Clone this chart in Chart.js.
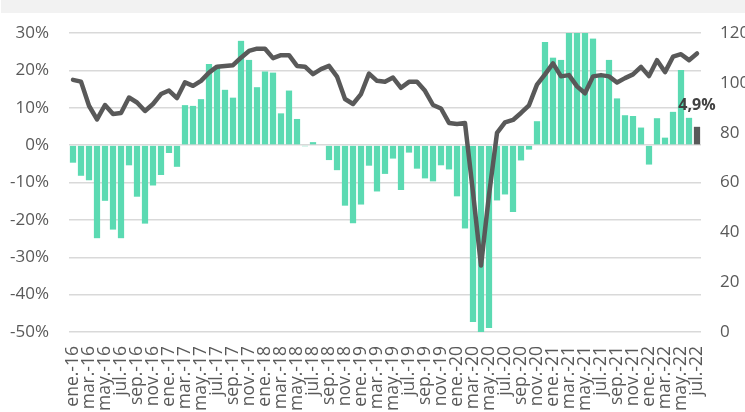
<!DOCTYPE html>
<html>
<head>
<meta charset="utf-8">
<script src="https://cdn.jsdelivr.net/npm/chart.js@4.4.1/dist/chart.umd.min.js"></script>
<style>
  html, body { margin: 0; padding: 0; background: #ffffff; overflow: hidden; width: 745px; height: 412px; }
  #band { position: absolute; left: 1px; top: 0; width: 744px; height: 13px; background: #f2f2f2; z-index: 2; }
  #wrap { position: absolute; left: 0; top: 0; width: 790px; height: 440px; }
</style>
</head>
<body>
<div id="band"></div>
<div id="wrap"><canvas id="c" width="790" height="440"></canvas></div>
<script>
// ---- data ----
const monthNames = ['ene.', 'feb.', 'mar.', 'abr.', 'may.', 'jun.', 'jul.', 'ago.', 'sep.', 'oct.', 'nov.', 'dic.'];
const years = ['16', '17', '18', '19', '20', '21', '22'];
const lastMonthCount = 7; // 2022 runs ene.–jul.

// year-on-year variation, % (left axis, bars)
const variationPct = [
  -4.7, -8.2, -9.4, -24.9, -14.9, -22.6, -24.9, -5.4, -13.8, -21.0, -10.8, -8.0,
  -2.1, -5.8, 10.7, 10.5, 12.3, 21.7, 21.0, 14.8, 12.7, 27.9, 22.8, 15.5,
  19.7, 19.4, 8.5, 14.6, 7.0, -0.3, 0.8, -0.2, -4.0, -6.7, -16.2, -20.9,
  -15.9, -5.5, -12.4, -7.7, -3.6, -12.0, -2.0, -6.3, -8.9, -9.7, -5.4, -6.5,
  -13.7, -22.3, -47.3, -50.6, -48.9, -14.8, -13.2, -17.9, -4.1, -1.2, 6.4, 27.6,
  23.4, 22.8, 33.0, 38.0, 34.0, 28.5, 18.5, 22.8, 12.5, 8.0, 7.8, 4.7,
  -5.2, 7.2, 2.0, 8.9, 20.1, 7.3, 4.9
];

// index level (right axis, line)
const indexLevel = [
  101.2, 100.5, 90.8, 85.3, 91.1, 87.5, 87.9, 94.1, 92.1, 88.7, 91.5, 95.5,
  96.9, 93.9, 100.2, 98.8, 100.8, 104.1, 106.5, 106.8, 107.1, 110.1, 112.8, 113.7,
  113.7, 109.9, 111.1, 111.1, 106.8, 106.5, 103.5, 105.5, 106.8, 102.5, 93.5, 91.5,
  95.5, 103.7, 100.8, 100.4, 102.1, 98.0, 100.4, 100.4, 96.8, 91.1, 89.7, 83.9,
  83.5, 83.9, 56.0, 26.7, 55.0, 79.9, 84.1, 85.1, 87.9, 91.0, 99.3, 103.4,
  107.8, 102.6, 103.1, 98.6, 95.8, 102.6, 103.1, 102.6, 100.1, 101.9, 103.4, 106.4,
  102.7, 109.1, 104.3, 110.5, 111.5, 109.1, 111.8
];

const leftTicks = { min: -50, max: 30, step: 10 };
const rightTicks = { min: 0, max: 120, step: 20 };

// categories built from month names and years
const categories = [];
years.forEach((y, yi) => {
  const n = yi === years.length - 1 ? lastMonthCount : 12;
  for (let m = 0; m < n; m++) categories.push(monthNames[m] + '-' + y);
});

// ---- styles ----
const GREEN = '#5bdab2';
const DARK = '#595959';
const TEXT = '#595959';
const GRID = '#d9d9d9';
const FONT = "'Open Sans', 'DejaVu Sans', sans-serif";

const W = 790, H = 440;
const PLOT_LEFT = 69, PLOT_RIGHT = 701, PLOT_TOP = 33, PLOT_BOTTOM = 332;

const lastLabelPlugin = {
  id: 'lastLabel',
  afterDatasetsDraw(chart) {
    const meta = chart.getDatasetMeta(1);
    const i = meta.data.length - 1;
    const el = meta.data[i];
    const v = chart.data.datasets[1].data[i];
    const txt = v.toFixed(1).replace('.', ',') + '%';
    const ctx = chart.ctx;
    ctx.save();
    ctx.font = "bold 16px " + FONT;
    ctx.fillStyle = '#404040';
    ctx.textAlign = 'center';
    ctx.textBaseline = 'bottom';
    ctx.fillText(txt, el.x, el.y - 13);
    ctx.restore();
  }
};

new Chart(document.getElementById('c'), {
  data: {
    labels: categories,
    datasets: [
      {
        type: 'line',
        label: 'Índice',
        data: indexLevel,
        yAxisID: 'y2',
        borderColor: DARK,
        borderWidth: 4.5,
        pointRadius: 0,
        tension: 0,
        borderJoinStyle: 'round',
        borderCapStyle: 'round',
        order: 0
      },
      {
        type: 'bar',
        label: 'Variación',
        data: variationPct,
        yAxisID: 'y',
        backgroundColor: (ctx) => ctx.dataIndex === variationPct.length - 1 ? DARK : GREEN,
        categoryPercentage: 1,
        barPercentage: 0.78,
        clip: 0,
        order: 1
      }
    ]
  },
  options: {
    responsive: false,
    devicePixelRatio: 1,
    animation: false,
    layout: { padding: { left: 0, right: 0, top: PLOT_TOP, bottom: 0 } },
    plugins: { legend: { display: false }, tooltip: { enabled: false } },
    scales: {
      x: {
        type: 'category',
        grid: { display: false, drawTicks: false },
        border: { display: false },
        ticks: {
          autoSkip: false,
          maxRotation: 90,
          minRotation: 90,
          padding: 14,
          color: TEXT,
          font: { family: FONT, size: 17.5 },
          callback: function (v, i) { return i % 2 === 0 ? categories[i] : ''; }
        },
        afterFit(scale) { scale.height = H - PLOT_BOTTOM; }
      },
      y: {
        position: 'left',
        min: leftTicks.min,
        max: leftTicks.max,
        grid: { color: GRID, lineWidth: 1.5, drawTicks: false },
        border: { display: false },
        ticks: {
          stepSize: leftTicks.step,
          padding: 20,
          color: TEXT,
          font: { family: FONT, size: 17 },
          callback: (v) => v + '%'
        },
        afterFit(scale) { scale.width = PLOT_LEFT; }
      },
      y2: {
        position: 'right',
        min: rightTicks.min,
        max: rightTicks.max,
        grid: { display: false, drawTicks: false },
        border: { display: false },
        ticks: {
          stepSize: rightTicks.step,
          padding: 19,
          color: TEXT,
          font: { family: FONT, size: 17 }
        },
        afterFit(scale) { scale.width = W - PLOT_RIGHT; }
      }
    }
  },
  plugins: [lastLabelPlugin]
});
</script>
</body>
</html>
